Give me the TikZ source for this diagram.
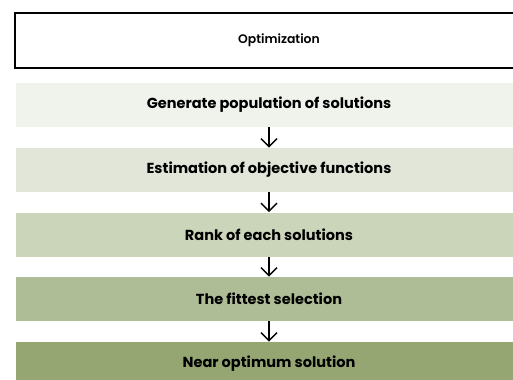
\documentclass[tikz,border=0pt]{standalone}
\usepackage{fontspec}
\setmainfont{Poppins}
\newfontfamily\titlefont{Poppins SemiBold}
\usetikzlibrary{arrows.meta}

\definecolor{stepA}{HTML}{F0F2EC}
\definecolor{stepB}{HTML}{E2E6D8}
\definecolor{stepC}{HTML}{CBD5BA}
\definecolor{stepD}{HTML}{AFBD96}
\definecolor{stepE}{HTML}{95A672}

\tikzset{
    stepbox/.style={rectangle, draw=none, minimum width=379.5pt,
        minimum height=33pt, inner sep=0pt, font=\fontsize{10.9}{13}\selectfont\bfseries},
    flow/.style={-{Straight Barb[length=6pt, width=12pt]}, line width=1.1pt}
}

\begin{document}
\begin{tikzpicture}[x=0.75pt, y=-0.75pt]

    % Page frame and clipping.
    \useasboundingbox (0, 0) rectangle (513, 379);
    \clip (0, 0) rectangle (513, 379);

    % Centres of the boxes.
    \coordinate (T)  at (279, 40.5);
    \coordinate (S1) at (269, 105);
    \coordinate (S2) at (269, 170);
    \coordinate (S3) at (269, 234.5);
    \coordinate (S4) at (269, 299);
    \coordinate (S5) at (269, 364);

    % Title box.
    \node[draw, line width=1.5pt, minimum width=396pt, minimum height=41pt,
          inner sep=0pt, font=\titlefont\fontsize{9.3}{11}\selectfont] (opt) at (T) {Optimization};

    % The steps.
    \node[stepbox, fill=stepA] (gen)  at (S1) {Generate population of solutions};
    \node[stepbox, fill=stepB] (est)  at (S2) {Estimation of objective functions};
    \node[stepbox, fill=stepC] (rank) at (S3) {Rank of each solutions};
    \node[stepbox, fill=stepD] (fit)  at (S4) {The fittest selection};
    \node[stepbox, fill=stepE] (near) at (S5) {Near optimum solution};

    % Arrows between the steps.
    \draw[flow] (gen)  -- (est);
    \draw[flow] (est)  -- (rank);
    \draw[flow] (rank) -- (fit);
    \draw[flow] (fit)  -- (near);
\end{tikzpicture}
\end{document}
